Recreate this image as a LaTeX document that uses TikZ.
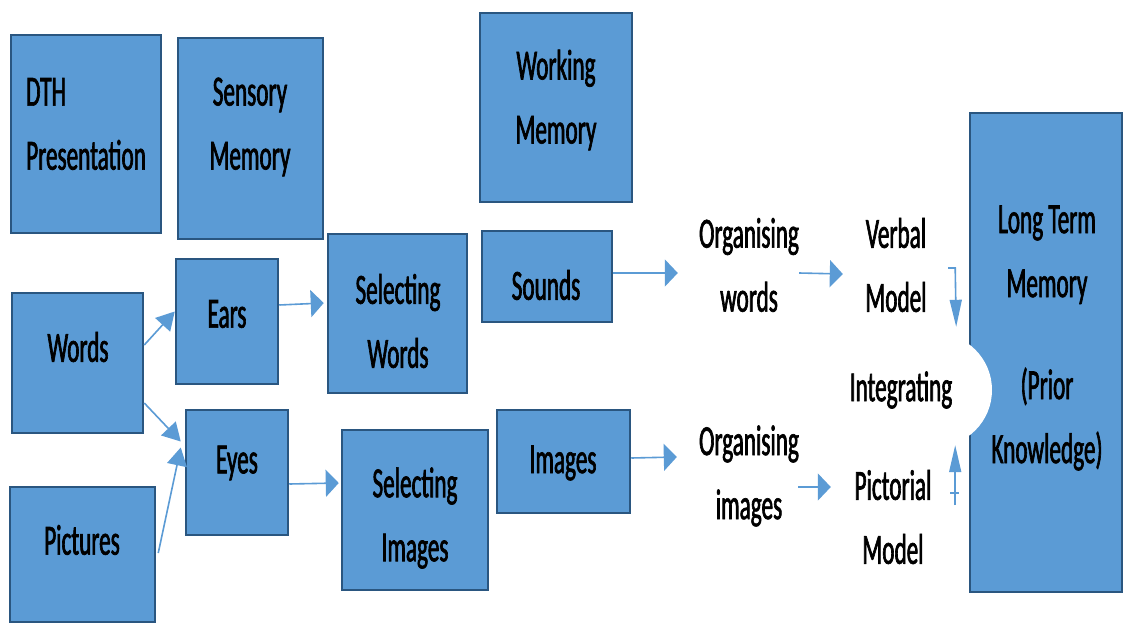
\documentclass[tikz,border=0pt]{standalone}
\usepackage{fontspec}
\setmainfont{Carlito}[FakeStretch=0.54,FakeBold=1.5]
\usetikzlibrary{arrows.meta}
\definecolor{boxfill}{HTML}{5B9BD5}
\definecolor{boxline}{HTML}{2A5680}
\definecolor{arrowblue}{HTML}{5B9BD5}

\begin{document}
\begin{tikzpicture}[x=1pt,y=-1pt,
  box/.style={draw=boxline, line width=2.5pt, fill=boxfill, inner sep=0pt},
  txt/.style={font=\fontsize{43}{64}\selectfont, align=center, inner sep=0pt},
  area/.style={txt, minimum height=80pt},
  conn/.style={draw=arrowblue, line width=1.6pt},
  arrH/.style={conn, -{Triangle[length=13pt,width=27pt]}},
  arrV/.style={conn, -{Triangle[length=27pt,width=12pt]}},
  arrD/.style={conn, -{Triangle[length=18pt,width=20pt]}},
]
% canvas
\fill[white] (0,0) rectangle (1125,624);
\useasboundingbox (0,0) rectangle (1125,624);

% stage boxes
\node[box, minimum width=150pt, minimum height=198pt] (dth)    at (86,134)      {};
\node[box, minimum width=145pt, minimum height=201pt] (sens)   at (250.5,138.5) {};
\node[box, minimum width=152pt, minimum height=189pt] (work)   at (556,107.5)   {};
\node[box, minimum width=131pt, minimum height=140pt] (words)  at (77.5,363)    {};
\node[box, minimum width=102pt, minimum height=125pt] (ears)   at (227,321.5)   {};
\node[box, minimum width=102pt, minimum height=125pt] (eyes)   at (237,472.5)   {};
\node[box, minimum width=145pt, minimum height=135pt] (pics)   at (82.5,554.5)  {};
\node[box, minimum width=139pt, minimum height=159pt] (selw)   at (397.5,313.5) {};
\node[box, minimum width=130pt, minimum height=91pt]  (sounds) at (547,276.5)   {};
\node[box, minimum width=146pt, minimum height=160pt] (seli)   at (415,510)     {};
\node[box, minimum width=133pt, minimum height=103pt] (images) at (563.5,461.5) {};
\node[box, minimum width=152pt, minimum height=479pt] (ltm)    at (1046,352.5)  {};
% rounded notch in the long term memory box
\fill[white] (935,390) circle[radius=57];

% box captions
\node[txt, align=left, anchor=west] (dthT) at (26,124) {DTH\\Presentation};
\node[txt] (sensT)   at (250,127)  {Sensory\\Memory};
\node[txt] (workT)   at (556,100)  {Working\\Memory};
\node[txt] (wordsT)  at (78,347)   {Words};
\node[txt] (earsT)   at (227,314)  {Ears};
\node[txt] (eyesT)   at (237,463)  {Eyes};
\node[txt] (picsT)   at (82,540)   {Pictures};
\node[txt] (selwT)   at (398,321)  {Selecting\\Words};
\node[txt] (soundsT) at (546,285)  {Sounds};
\node[txt] (seliT)   at (415,518)  {Selecting\\Images};
\node[txt] (imagesT) at (563,463)  {Images};
\node[txt] (ltmT)    at (1047,338) {Long Term\\Memory\\[38pt](Prior\\Knowledge)};

% free-standing process labels
\node[area, minimum width=104pt] (orgw)   at (749,265) {Organising\\words};
\node[area, minimum width=80pt]  (verbal) at (896,265) {Verbal\\Model};
\node[area, minimum width=110pt] (integ)  at (901,390) {Integrating};
\node[area, minimum width=104pt] (orgi)   at (749,476) {Organising\\images};
\node[area, minimum width=80pt]  (pict)   at (893,517) {Pictorial\\Model};

% connectors
\draw[arrD] ([yshift=18pt]words.east) -- ([yshift=10pt]ears.west);
\draw[arrD] ([yshift=-40pt]words.east) -- ([xshift=-4pt,yshift=31pt]eyes.west);
\draw[arrD] ([xshift=2pt,yshift=1.5pt]pics.east) -- ([xshift=-4pt,yshift=25pt]eyes.west);
\draw[arrH] ([yshift=16.5pt]ears.east) -- ([xshift=-3pt,yshift=10.5pt]selw.west);
\draw[arrH] ([yshift=-11.5pt]eyes.east) -- ([xshift=-2pt,yshift=27pt]seli.west);
\draw[arrH] ([yshift=3.5pt]sounds.east) -- ([xshift=-19pt,yshift=-8pt]orgw.west);
\draw[arrH] ([yshift=3.5pt]images.east) -- ([xshift=-20pt,yshift=19pt]orgi.west);
\draw[arrH] ([xshift=-2pt,yshift=-8pt]orgw.east) -- ([xshift=-13pt,yshift=-9pt]verbal.west);
\draw[arrH] ([xshift=-3pt,yshift=-11pt]orgi.east) -- ([xshift=-22pt,yshift=30pt]pict.west);
\draw[arrV] ([xshift=12pt,yshift=-3pt]verbal.east) -- ++(7,0) -- ([yshift=23pt]integ.north east);
\draw[arrV] ([xshift=22pt,yshift=12pt]pict.east) -- ([xshift=-1pt,yshift=-15pt]integ.south east);
\draw[conn] ([xshift=17pt,yshift=24pt]pict.east) -- ++(9,0);
\end{tikzpicture}
\end{document}
